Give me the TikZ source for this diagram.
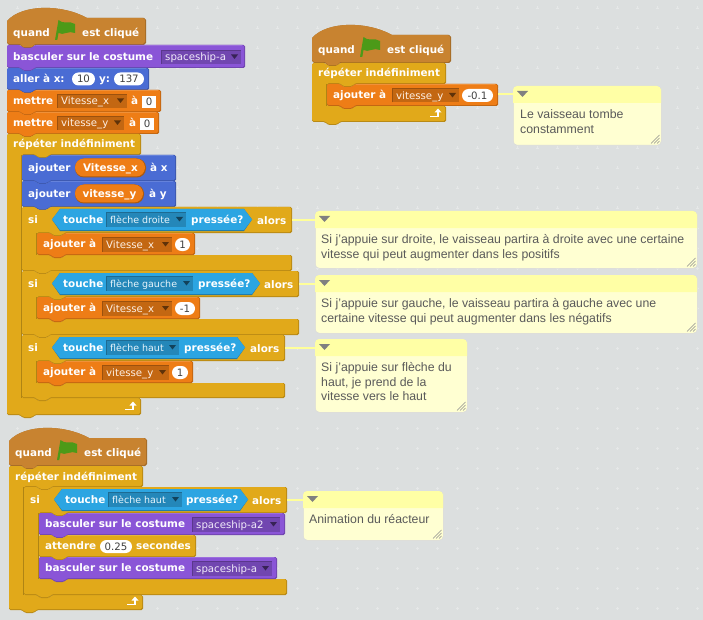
\documentclass[tikz,border=0pt]{standalone}
\usepackage{fontspec}
\setmainfont{Liberation Sans}
\setsansfont{DejaVu Sans}
\definecolor{bgc}{HTML}{DCDFDF}
\definecolor{gridc}{HTML}{E6E8E8}
\definecolor{evt}{HTML}{C88330}
\definecolor{look}{HTML}{8A55D7}
\definecolor{mot}{HTML}{4A6CD4}
\definecolor{dat}{HTML}{EE7D16}
\definecolor{ctl}{HTML}{E1A91A}
\definecolor{sens}{HTML}{2CA5E2}
\definecolor{flagc}{HTML}{4C9A18}
\definecolor{cmthead}{HTML}{FFFFA5}
\definecolor{cmtbody}{HTML}{FFFFD2}
\definecolor{cmtline}{HTML}{FFFF99}
\definecolor{cmttext}{HTML}{5A5A5A}
\newcount\nn
\newcommand\nxt{\global\advance\nn by 1 }
\newcommand\keyfont{\fontsize{9.5}{12}\selectfont}
\tikzset{
  x=1pt,y=-1pt,
  rc/.style={rounded corners=1.5pt},
  blocktxt/.style={font=\sffamily\bfseries\fontsize{10.4}{12}\selectfont,text=white,inner sep=0pt,anchor=west,text height=7.5pt,text depth=2pt,yshift=-1pt},
  ddtxt/.style={font=\sffamily\fontsize{10.2}{12}\selectfont,inner sep=0pt,anchor=west,text height=7.5pt,text depth=2pt,yshift=-1pt},
  valtxt/.style={font=\sffamily\fontsize{10.2}{12}\selectfont,text=black!75,inner sep=0pt,anchor=center,text height=7.5pt,text depth=2pt,yshift=-1pt},
  cmtbox/.style={fill=cmtbody,draw=black!15,line width=0.5pt,rounded corners=4pt,inner sep=0pt,anchor=north west},
  cmttxt/.style={font=\fontsize{12.3}{14}\selectfont,text=cmttext,inner sep=0pt,anchor=west,text height=8.5pt,text depth=2.5pt,yshift=-0.8pt},
  cmtlink/.style={draw=cmtline,line width=2pt},
}
% stack block outline
\newcommand\stkp[4]{(#1,{#2}) -- ({#1+13},{#2}) -- ({#1+16},{#2+3}) -- ({#1+25},{#2+3}) -- ({#1+28},{#2}) -- ({#3},{#2}) -- ({#3},{#4}) -- ({#1+28},{#4}) -- ({#1+25},{#4+3}) -- ({#1+16},{#4+3}) -- ({#1+13},{#4}) -- (#1,{#4}) -- cycle}
\newcommand\blk[5]{%
  \fill[#5!82!black,rc] \stkp{#1}{#2}{#3}{#4};
  \fill[#5,rc] \stkp{#1}{#2}{#3-1}{#4-1};
  \draw[#5!85!white,line width=0.5pt] ({#1+29},{#2+0.5}) -- ({#3-3},{#2+0.5});
}
% hat block
\newcommand\hatp[4]{(#1,{#2+3}) .. controls ({#1+15},{#2-14}) and ({#1+55},{#2-14}) .. ({#1+80},{#2}) -- ({#3-2},{#2}) -- ({#3},{#2+2}) -- ({#3},{#4-2}) -- ({#3-2},{#4}) -- ({#1+28},{#4}) -- ({#1+25},{#4+3}) -- ({#1+16},{#4+3}) -- ({#1+13},{#4}) -- ({#1+2},{#4}) -- (#1,{#4-2}) -- cycle}
\newcommand\hatb[4]{%
  \fill[evt!82!black] \hatp{#1}{#2}{#3}{#4};
  \fill[evt] \hatp{#1}{#2}{#3-1}{#4-1};
  \fill[flagc] ({#1+48},{#2+22}) -- ({#1+51.5},{#2+2}) .. controls ({#1+56},{#2+7}) and ({#1+62},{#2+2}) .. ({#1+68},{#2+6}) -- ({#1+68},{#2+15}) .. controls ({#1+62},{#2+12}) and ({#1+56},{#2+18}) .. ({#1+51.5},{#2+15}) -- ({#1+50.3},{#2+22}) -- cycle;
  \lab{{#1+6}}{{#2+15}}{quand}
  \lab{{#1+75}}{{#2+15}}{est cliqué}
}
% C block
\newcommand\cp[6]{(#1,{#2}) -- ({#1+13},{#2}) -- ({#1+16},{#2+3}) -- ({#1+25},{#2+3}) -- ({#1+28},{#2}) -- ({#3},{#2}) -- ({#3},{#4}) -- ({#1+43},{#4}) -- ({#1+40},{#4+3}) -- ({#1+31},{#4+3}) -- ({#1+28},{#4}) -- ({#1+15},{#4}) -- ({#1+15},{#5}) -- ({#1+28},{#5}) -- ({#1+31},{#5+3}) -- ({#1+40},{#5+3}) -- ({#1+43},{#5}) -- ({#3},{#5}) -- ({#3},{#6}) -- ({#1+28},{#6}) -- ({#1+25},{#6+3}) -- ({#1+16},{#6+3}) -- ({#1+13},{#6}) -- (#1,{#6}) -- cycle}
\newcommand\cblk[6]{%
  \fill[ctl!82!black,rc] \cp{#1}{#2}{#3}{#4}{#5}{#6};
  \fill[ctl,rc] \cp{#1}{#2}{#3-1}{#4-1}{#5}{#6-1};
  \draw[ctl!78!black,line width=0.8pt] ({#1+14.6},{#4}) -- ({#1+14.6},{#5});
}
\newcommand\lab[3]{\nxt\node[blocktxt,name=lab\the\nn] at (#1,#2) {#3};}
\newcommand\dd[5]{%
  \fill[#5!82!black] (#1,{#3-7}) rectangle (#2,{#3+7});
  \draw[#5!65!black,line width=0.6pt] (#1,{#3+7}) -- (#1,{#3-7}) -- (#2,{#3-7});
  \nxt\node[ddtxt,text=white!88!#5,name=dd\the\nn] at ({#1+4},#3) {#4};
  \fill[#5!40!black] ({#2-10},{#3-2.5}) -- ({#2-3},{#3-2.5}) -- ({#2-6.5},{#3+2}) -- cycle;
}
\newcommand\pill[4]{%
  \fill[white,rounded corners=6.5pt] (#1,{#3-6.5}) rectangle (#2,{#3+6.5});
  \nxt\node[valtxt,name=val\the\nn] at ({(#1+#2)/2},#3) {#4};
}
\newcommand\sq[4]{%
  \fill[white] (#1,{#3-6}) rectangle (#2,{#3+6});
  \nxt\node[valtxt,name=val\the\nn] at ({(#1+#2)/2},#3) {#4};
}
\newcommand\vpill[4]{%
  \fill[dat!72!black,rounded corners=9pt] (#1,{#3-9.5}) rectangle (#2,{#3+9.5});
  \fill[dat,rounded corners=9pt] (#1,{#3-9.5}) rectangle ({#2-1},{#3+8.5});
  \nxt\node[blocktxt,anchor=center,name=var\the\nn] at ({(#1+#2)/2},#3) {#4};
}
\newcommand\hex[4]{%
  \fill[sens!72!black] (#1,{(#3+#4)/2}) -- ({#1+8},#3) -- ({#2-8},#3) -- (#2,{(#3+#4)/2}) -- ({#2-8},{#4+1}) -- ({#1+8},{#4+1}) -- cycle;
  \fill[sens] (#1,{(#3+#4)/2}) -- ({#1+8},#3) -- ({#2-8},#3) -- (#2,{(#3+#4)/2}) -- ({#2-8},#4) -- ({#1+8},#4) -- cycle;
}
\newcommand\rep[2]{%
  \draw[white,line width=1.4pt] ({#1-16},{#2-5.5}) -- ({#1-8},{#2-5.5}) -- ({#1-8},{#2-10});
  \fill[white] ({#1-11.5},{#2-9.5}) -- ({#1-8},{#2-13.5}) -- ({#1-4.5},{#2-9.5}) -- cycle;
}
% comment
\newcommand\cmt[6]{%
  \node[cmtbox,minimum width={(#4-#2)*1pt},minimum height={(#5-#3)*1pt}] (#1) at (#2,#3) {};
  \fill[cmthead,rounded corners=4pt] (#2,#6) [sharp corners] -- (#2,{#3+4}) [rounded corners=4pt] -- (#2,#3) -- (#4,#3) -- (#4,{#3+6}) [sharp corners] -- (#4,#6) -- cycle;
  \fill[black!50] ({#2+4},{#3+5}) -- ({#2+15},{#3+5}) -- ({#2+9.5},{#3+11}) -- cycle;
  \draw[black!45,line width=0.5pt] ({#4-10},{#5-1.5}) -- ({#4-1.5},{#5-10}) ({#4-7},{#5-1.5}) -- ({#4-1.5},{#5-7}) ({#4-4},{#5-1.5}) -- ({#4-1.5},{#5-4});
}
\begin{document}
\begin{tikzpicture}
\useasboundingbox (0,0) rectangle (703,620);
\fill[bgc] (0,0) rectangle (703,620);
\foreach \i in {0,...,34}{\foreach \j in {0,...,30}{
  \draw[gridc,line width=0.5pt] ({16+20*\i},{8+20*\j}) -- ({19+20*\i},{8+20*\j}) ({17.5+20*\i},{6.5+20*\j}) -- ({17.5+20*\i},{9.5+20*\j});
}}

% ===== stack 1 =====
\hatb{7}{18}{146}{45}
\blk{7}{45}{245}{68}{look}
\lab{13}{57}{basculer sur le costume}
\dd{161}{241}{57}{spaceship-a}{look}
\blk{7}{68}{149}{90}{mot}
\lab{13}{79}{aller à x:}
\pill{72}{95}{79}{10}
\lab{99}{79}{y:}
\pill{114}{144}{79}{137}
\blk{7}{90}{161}{112}{dat}
\lab{13}{101}{mettre}
\dd{57}{127}{101}{Vitesse\_x}{dat}
\lab{131}{101}{à}
\sq{142}{156}{102}{0}
\blk{7}{112}{159}{134}{dat}
\lab{13}{123}{mettre}
\dd{57}{124}{123}{vitesse\_y}{dat}
\lab{129}{123}{à}
\sq{140}{154}{124}{0}

\cblk{7}{134}{141}{155}{398}{415}
\lab{13}{144}{répéter indéfiniment}
\rep{141}{415}

\blk{22}{155}{176}{181}{mot}
\lab{28}{168}{ajouter}
\vpill{75}{146}{168}{Vitesse\_x}
\lab{150}{168}{à x}
\blk{22}{181}{176}{207}{mot}
\lab{28}{194}{ajouter}
\vpill{75}{144}{194}{vitesse\_y}
\lab{149}{194}{à y}

\cblk{22}{207}{292}{233}{255}{271}
\lab{28}{220}{si}
\hex{52}{252}{209}{230}
\lab{63}{219.5}{touche}
\dd{106}{186}{219.5}{\keyfont flèche droite}{sens}
\lab{191}{219.5}{pressée?}
\lab{257}{220.5}{alors}
\blk{37}{233}{195}{255}{dat}
\lab{43}{244}{ajouter à}
\dd{102}{172}{244.5}{Vitesse\_x}{dat}
\pill{175}{190}{244.5}{1}

\cblk{22}{271}{299}{297}{319}{335}
\lab{28}{284}{si}
\hex{52}{260}{273}{294}
\lab{63}{283.5}{touche}
\dd{106}{193}{283.5}{\keyfont flèche gauche}{sens}
\lab{198}{283.5}{pressée?}
\lab{264}{284.5}{alors}
\blk{37}{297}{200}{319}{dat}
\lab{43}{308}{ajouter à}
\dd{102}{172}{308.5}{Vitesse\_x}{dat}
\pill{175}{195}{308.5}{-1}

\cblk{22}{335}{285}{361}{383}{398}
\lab{28}{348}{si}
\hex{52}{245}{337}{358}
\lab{63}{347.5}{touche}
\dd{106}{179}{347.5}{\keyfont flèche haut}{sens}
\lab{184}{347.5}{pressée?}
\lab{250}{348.5}{alors}
\blk{37}{361}{193}{383}{dat}
\lab{43}{372}{ajouter à}
\dd{102}{169}{372.5}{vitesse\_y}{dat}
\pill{172}{188}{372.5}{1}

% ===== stack 2 =====
\hatb{312}{35}{451}{63}
\cblk{312}{63}{446}{84}{106}{122}
\lab{318}{73}{répéter indéfiniment}
\rep{446}{122}
\blk{327}{84}{498}{106}{dat}
\lab{333}{95}{ajouter à}
\dd{392}{459}{95.5}{vitesse\_y}{dat}
\pill{462}{493}{95.5}{-0.1}

% ===== stack 3 =====
\hatb{9}{438}{147}{466}
\cblk{9}{466}{143}{487}{595}{610}
\lab{15}{476.5}{répéter indéfiniment}
\rep{143}{610}
\cblk{24}{487}{287}{513}{579}{595}
\lab{30}{500}{si}
\hex{54}{248}{489}{510}
\lab{65}{499.5}{touche}
\dd{108}{182}{499.5}{\keyfont flèche haut}{sens}
\lab{186}{499.5}{pressée?}
\lab{252}{500.5}{alors}
\blk{39}{513}{285}{535}{look}
\lab{45}{524}{basculer sur le costume}
\dd{192}{280}{524.5}{spaceship-a2}{look}
\blk{39}{535}{196}{557}{ctl}
\lab{45}{546}{attendre}
\pill{100}{132}{546.5}{0.25}
\lab{136}{546}{secondes}
\blk{39}{557}{277}{579}{look}
\lab{45}{568}{basculer sur le costume}
\dd{192}{272}{568.5}{spaceship-a}{look}

% ===== comments =====
\cmt{c0}{513}{86}{661}{145}{103}
\cmt{c1}{315}{211}{697}{268}{228}
\cmt{c2}{315}{275}{697}{333}{292}
\cmt{c3}{315}{339}{467}{412}{356}
\cmt{c4}{303}{491}{443}{540}{508}
\coordinate (e0) at (498,94.5);
\coordinate (e1) at (292,220);
\coordinate (e2) at (299,284);
\coordinate (e3) at (285,348);
\coordinate (e4) at (287,499.5);
\draw[cmtlink] (e0) -- (e0 -| c0.west);
\draw[cmtlink] (e1) -- (e1 -| c1.west);
\draw[cmtlink] (e2) -- (e2 -| c2.west);
\draw[cmtlink] (e3) -- (e3 -| c3.west);
\draw[cmtlink] (e4) -- (e4 -| c4.west);
\node[cmttxt] (t0a) at (520,115) {Le vaisseau tombe};
\node[cmttxt] (t0b) at (520,130) {constamment};
\node[cmttxt] (t1a) at (321,240) {Si j'appuie sur droite, le vaisseau partira à droite avec une certaine};
\node[cmttxt] (t1b) at (321,255) {vitesse qui peut augmenter dans les positifs};
\node[cmttxt] (t2a) at (321,304) {Si j'appuie sur gauche, le vaisseau partira à gauche avec une};
\node[cmttxt] (t2b) at (321,319) {certaine vitesse qui peut augmenter dans les négatifs};
\node[cmttxt] (t3a) at (321,368) {Si j'appuie sur flèche du};
\node[cmttxt] (t3b) at (321,382.5) {haut, je prend de la};
\node[cmttxt] (t3c) at (321,397) {vitesse vers le haut};
\node[cmttxt] (t4a) at (309,520) {Animation du réacteur};
\end{tikzpicture}
\end{document}
